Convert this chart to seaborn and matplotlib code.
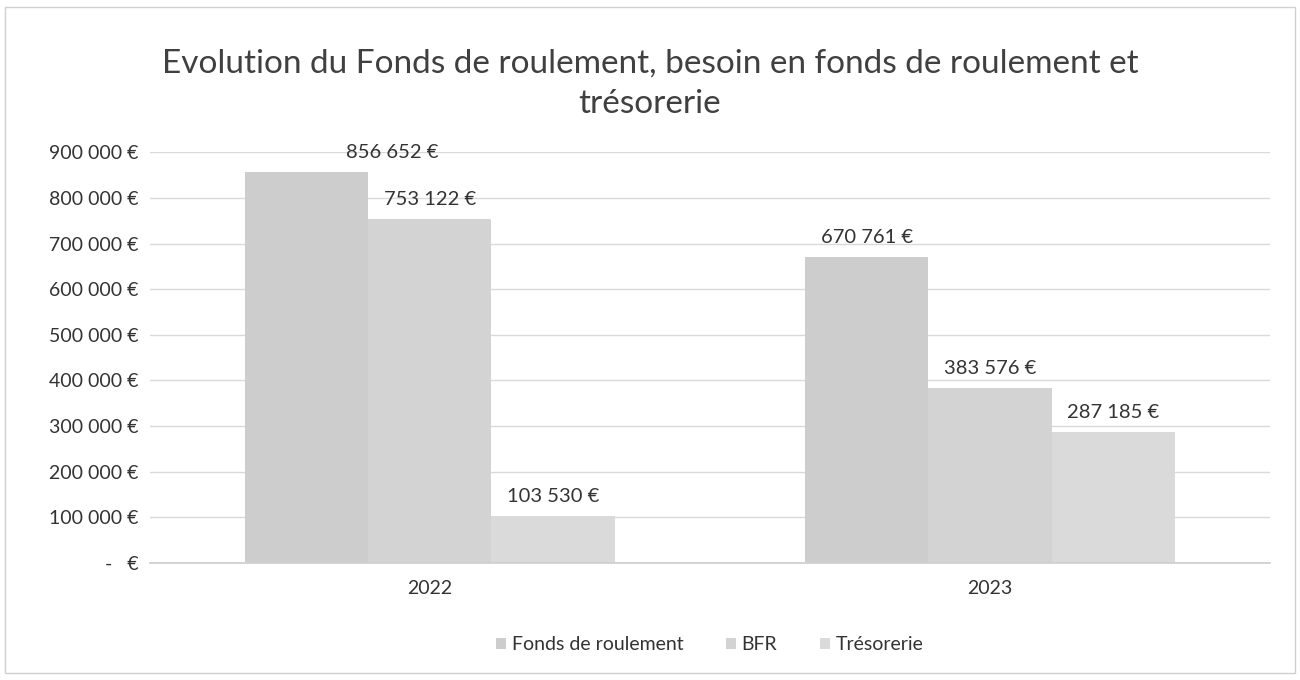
import matplotlib
matplotlib.use("Agg")
import matplotlib.pyplot as plt
import seaborn as sns
import pandas as pd

years = ["2022", "2023"]
series = ["Fonds de roulement", "BFR", "Trésorerie"]
fonds = [856652, 670761]
bfr = [753122, 383576]
treso = [103530, 287185]
yticks = [0, 100000, 200000, 300000, 400000, 500000, 600000, 700000, 800000, 900000]
colors = ["#cdcdcd", "#d3d3d3", "#dadada"]

sns.set_theme(style="white")
plt.rcParams["font.family"] = ["Lato", "DejaVu Sans"]

rows = []
for s, vals in zip(series, [fonds, bfr, treso]):
    for y, v in zip(years, vals):
        rows.append({"year": y, "serie": s, "value": v})
df = pd.DataFrame(rows)

fig = plt.figure(figsize=(13, 6.8), dpi=100)
ax = fig.add_axes([0.115, 0.172, 0.862, 0.604])

sns.barplot(data=df, x="year", y="value", hue="serie", hue_order=series,
            palette=colors, width=0.66, ax=ax, legend=True, saturation=1,
            linewidth=0, edgecolor="none")

def fmt(v):
    if v == 0:
        return "-   €"
    return f"{v:,.0f}".replace(",", " ") + " €"

ax.set_ylim(0, 900000)
ax.set_yticks(yticks)
ax.set_yticklabels([fmt(v) for v in yticks], fontsize=14, color="#333333")
ax.tick_params(axis="x", labelsize=14, colors="#333333", length=0, pad=12)
ax.tick_params(axis="y", length=0, pad=8)
ax.yaxis.grid(True, color="#d9d9d9", linewidth=1)
ax.set_axisbelow(True)
for s in ["top", "right", "left"]:
    ax.spines[s].set_visible(False)
ax.spines["bottom"].set_color("#cfcfcf")
ax.set_xlabel("")
ax.set_ylabel("")

for ci, cont in enumerate(ax.containers):
    labels = [fmt(v) for v in cont.datavalues]
    texts = ax.bar_label(cont, labels=labels, fontsize=14.5, color="#333333", padding=8)
    if ci == 0:
        # first label was nudged right in the original
        texts[0].xyann = (62, 8)

leg = ax.legend(loc="upper center", bbox_to_anchor=(0.5, -0.135), ncol=3, frameon=False,
                fontsize=14, handlelength=0.5, handleheight=0.5, columnspacing=2.2,
                handletextpad=0.3)
for t in leg.get_texts():
    t.set_color("#333333")

fig.suptitle("Evolution du Fonds de roulement, besoin en fonds de roulement et\ntrésorerie",
             y=0.928, va="top", fontsize=24, color="#404040", linespacing=1.4)

border = plt.Rectangle((0.004, 0.01), 0.992, 0.98, transform=fig.transFigure,
                       fill=False, edgecolor="#d0d0d0", linewidth=1)
fig.add_artist(border)

fig.savefig("out.png", dpi=100, facecolor="white")
